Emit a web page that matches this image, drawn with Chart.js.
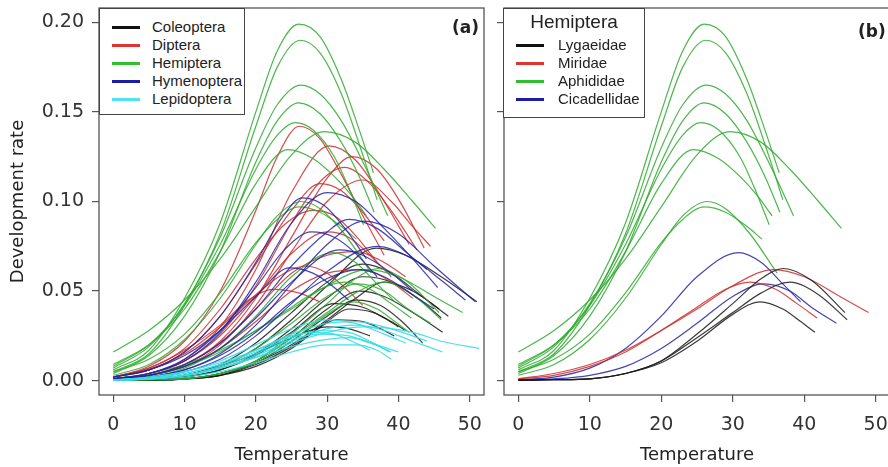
<!DOCTYPE html>
<html>
<head>
<meta charset="utf-8">
<script src="https://cdn.jsdelivr.net/npm/chart.js@4.4.1/dist/chart.umd.min.js"></script>
<style>
  body { margin: 0; width: 888px; height: 467px; overflow: hidden; background: #fff; position: relative; }
  .wrap { position: absolute; top: 0; height: 467px; }
  .legend { position: absolute; border: 1.3px solid #444; background: #fff; box-sizing: border-box;
            font-family: "Liberation Sans", Arial, sans-serif; font-size: 15px; color: #222; }
  .row { position: absolute; height: 18px; line-height: 18px; white-space: nowrap; }
  .row i { position: absolute; top: 8px; width: 28px; height: 3px; }
  .row span { position: absolute; }
  .tag { position: absolute; font-family: "DejaVu Sans", sans-serif; font-weight: bold; font-size: 17px; color: #222; }
</style>
</head>
<body>
<div class="wrap" style="left:0;width:490px"><canvas id="chartA"></canvas></div>
<div class="wrap" style="left:490px;width:402px"><canvas id="chartB"></canvas></div>
<div class="legend" id="legA" style="left:99px;top:8px;width:146px;height:107px"></div>
<div class="legend" id="legB" style="left:503px;top:8px;width:142px;height:110px">
  <div style="position:absolute;left:0;width:100%;top:2px;text-align:center;font-size:19px">Hemiptera</div>
</div>
<div class="tag" style="left:452px;top:17px">(a)</div>
<div class="tag" style="left:858px;top:21px">(b)</div>
<script>
// axis ticks
const xTicks = [0, 10, 20, 30, 40, 50];
const yTicks = [0, 0.05, 0.10, 0.15, 0.20];

// legend names
const orders = ['Coleoptera', 'Diptera', 'Hemiptera', 'Hymenoptera', 'Lepidoptera'];
const families = ['Lygaeidae', 'Miridae', 'Aphididae', 'Cicadellidae'];

// curves, [temperature, rate] pairs
const lygaeidae = [
  [[0,0.0002],[5,0.0005],[10,0.001],[15,0.004],[20,0.011],[25,0.026],[30,0.043],[34,0.057],[37.1,0.0626],[41,0.056],[45.7,0.038]],
  [[0,0.0002],[5,0.0005],[10,0.001],[15,0.004],[20,0.011],[25,0.024],[30,0.038],[34,0.049],[38,0.055],[42,0.048],[46,0.034]],
  [[0,0.0002],[5,0.0005],[10,0.001],[15,0.004],[20,0.010],[25,0.022],[30,0.037],[33.8,0.044],[37,0.040],[39.5,0.033],[41.5,0.027]]
];
const miridae = [
  [[0,0.001],[5,0.004],[10,0.009],[15,0.017],[20,0.028],[25,0.040],[30,0.053],[35.7,0.062],[40,0.058],[45,0.047],[49,0.038]],
  [[0,0.001],[5,0.003],[10,0.008],[15,0.016],[20,0.028],[25,0.041],[29,0.051],[32.4,0.055],[36,0.051],[39,0.043],[41.8,0.035]]
];
const aphididae = [
  [[0,0.006],[5,0.017],[10,0.046],[15,0.088],[20,0.150],[23,0.184],[26,0.199],[29,0.192],[32,0.168],[34.5,0.140],[36.5,0.116]],
  [[0,0.005],[5,0.015],[10,0.042],[15,0.082],[20,0.142],[23,0.175],[26.2,0.190],[29,0.183],[32,0.160],[35,0.126],[37,0.101]],
  [[0,0.007],[5,0.019],[10,0.043],[15,0.080],[20,0.130],[23,0.154],[26.3,0.165],[29,0.160],[32,0.145],[35.5,0.118],[38.5,0.092]],
  [[0,0.004],[5,0.014],[10,0.036],[15,0.072],[20,0.122],[23,0.145],[26,0.155],[29,0.149],[32,0.133],[34.5,0.114],[36.6,0.094]],
  [[0,0.008],[5,0.020],[10,0.042],[15,0.076],[20,0.118],[23,0.137],[25.5,0.144],[28,0.140],[31,0.125],[33,0.108],[35.1,0.087]],
  [[0,0.016],[5,0.028],[10,0.045],[15,0.068],[20,0.097],[25,0.126],[29.6,0.139],[34,0.133],[38,0.118],[42,0.100],[45.2,0.085]],
  [[0,0.009],[5,0.020],[10,0.040],[15,0.072],[20,0.110],[24.5,0.129],[28,0.124],[31,0.114],[33.5,0.103],[35.5,0.092]],
  [[0,0.003],[5,0.009],[10,0.023],[15,0.046],[20,0.076],[23,0.092],[26.4,0.100],[29,0.096],[32.4,0.082],[36.2,0.060]],
  [[0,0.005],[5,0.012],[10,0.026],[15,0.049],[20,0.077],[23,0.090],[26,0.097],[29,0.094],[32,0.086],[34.1,0.079]]
];
const cicadellidae = [
  [[0,0.0005],[5,0.002],[10,0.007],[15,0.018],[20,0.036],[25,0.058],[30.8,0.0715],[34,0.066],[37,0.054],[39.5,0.044]],
  [[0,0.0003],[5,0.001],[10,0.003],[15,0.008],[20,0.018],[25,0.032],[30,0.047],[34.3,0.054],[38,0.050],[41,0.041],[44.5,0.032]]
];
const hemiptera = [...lygaeidae, ...miridae, ...aphididae, ...cicadellidae];

const coleoptera = [
  [[0,0.0002],[5,0.001],[10,0.003],[15,0.008],[20,0.018],[25,0.034],[30,0.053],[36.9,0.074],[41,0.070],[46,0.058],[51,0.044]],
  [[0,0.0001],[5,0.0005],[10,0.002],[15,0.006],[20,0.015],[25,0.029],[30,0.046],[35,0.058],[39,0.055],[43,0.045],[46,0.035]],
  [[0,0.0001],[5,0.0003],[10,0.001],[15,0.004],[20,0.011],[25,0.024],[30,0.040],[34.5,0.050],[38,0.047],[42,0.038],[46.2,0.027]],
  [[0,0.0001],[5,0.0003],[10,0.001],[15,0.004],[20,0.010],[25,0.022],[30,0.036],[34,0.045],[37.5,0.042],[40.5,0.033],[43.4,0.021]],
  [[0,0.0001],[5,0.0003],[10,0.001],[15,0.003],[20,0.009],[25,0.019],[28,0.027],[31.3,0.034],[35,0.033],[37.5,0.029],[39.4,0.025]],
  [[0,0.0001],[5,0.0002],[10,0.0008],[15,0.003],[20,0.008],[25,0.018],[30,0.033],[33,0.040],[36.5,0.038],[39,0.033],[41,0.028]],
  [[0,0.0001],[5,0.0002],[10,0.001],[15,0.003],[20,0.010],[25,0.020],[30,0.034],[34,0.046],[38,0.055],[42,0.050],[47,0.036]],
  [[0,0.0002],[5,0.001],[10,0.003],[15,0.008],[20,0.015],[25,0.024],[30,0.030],[33,0.029],[36,0.025]],
  [[0,0.0002],[5,0.001],[10,0.003],[15,0.009],[20,0.021],[25,0.038],[30,0.055],[35,0.065],[39,0.060],[43,0.048],[45.7,0.040]],
  [[0,0.0002],[5,0.0008],[10,0.002],[15,0.006],[20,0.014],[25,0.027],[31,0.043],[35,0.041],[38,0.035],[40,0.030]]
];
const diptera = [
  [[0,0.002],[5,0.008],[10,0.022],[15,0.050],[20,0.095],[23,0.125],[26.1,0.142],[29,0.135],[32,0.115],[35,0.092],[38,0.070]],
  [[0,0.001],[5,0.004],[10,0.012],[15,0.030],[20,0.062],[25,0.105],[30.3,0.131],[34,0.123],[38,0.100],[41.5,0.076]],
  [[0,0.001],[5,0.003],[10,0.009],[15,0.022],[20,0.046],[25,0.080],[30,0.113],[33.5,0.125],[37,0.118],[40.5,0.098],[43.6,0.074]],
  [[0,0.001],[5,0.004],[10,0.011],[15,0.026],[20,0.053],[25,0.088],[29,0.111],[32.4,0.119],[36,0.110],[39.5,0.092],[42.6,0.073]],
  [[0,0.002],[5,0.006],[10,0.016],[15,0.036],[20,0.065],[25,0.095],[29,0.110],[32,0.106],[35,0.094],[38,0.078]],
  [[0,0.001],[5,0.004],[10,0.011],[15,0.025],[20,0.047],[25,0.071],[30,0.083],[33,0.080],[36,0.070],[39,0.058]],
  [[0,0.002],[5,0.006],[10,0.015],[15,0.030],[20,0.048],[24,0.060],[27,0.064],[30,0.060],[33,0.050],[35,0.042]],
  [[0,0.002],[5,0.007],[10,0.017],[15,0.031],[19,0.045],[22.5,0.051],[26,0.049],[29,0.044]],
  [[0,0.001],[5,0.003],[10,0.008],[15,0.018],[20,0.033],[25,0.050],[30,0.060],[35,0.062],[39,0.055],[42,0.046]],
  [[0,0.001],[5,0.003],[10,0.009],[15,0.021],[20,0.040],[25,0.060],[30,0.070],[34,0.072],[38,0.066],[41,0.058]],
  [[0,0.002],[5,0.007],[10,0.018],[15,0.040],[20,0.068],[24,0.087],[28,0.095],[31,0.092],[34,0.081],[37,0.066]],
  [[0,0.001],[5,0.003],[10,0.008],[15,0.020],[20,0.042],[25,0.072],[30,0.100],[35,0.112],[39,0.100],[42,0.086],[44.5,0.075]]
];
const hymenoptera = [
  [[0,0.001],[5,0.004],[10,0.011],[15,0.027],[20,0.055],[25,0.088],[30,0.105],[34,0.100],[38,0.085],[42,0.068],[45.5,0.052]],
  [[0,0.002],[5,0.006],[10,0.016],[15,0.036],[20,0.066],[23.5,0.090],[26.5,0.102],[29.5,0.098],[32.5,0.085],[35.5,0.068]],
  [[0,0.001],[5,0.002],[10,0.006],[15,0.015],[20,0.031],[25,0.054],[30,0.076],[35.2,0.089],[40,0.082],[45,0.064],[50.8,0.044]],
  [[0,0.001],[5,0.004],[10,0.012],[15,0.028],[20,0.052],[24,0.073],[27.8,0.083],[31,0.080],[34,0.071],[37,0.058]],
  [[0,0.001],[5,0.002],[10,0.005],[15,0.012],[20,0.025],[25,0.043],[30,0.061],[37,0.075],[42,0.068],[46,0.056],[49.4,0.045]],
  [[0,0.001],[5,0.003],[10,0.008],[15,0.018],[20,0.035],[25,0.055],[31.7,0.073],[35,0.070],[39,0.060],[42,0.050]],
  [[0,0.002],[5,0.006],[10,0.014],[15,0.028],[20,0.047],[24.7,0.063],[28,0.060],[31,0.052],[33,0.045]],
  [[0,0.001],[5,0.002],[10,0.006],[15,0.014],[20,0.027],[25,0.044],[30,0.057],[34.5,0.062],[38,0.058],[42,0.048],[45,0.040]],
  [[0,0.001],[5,0.003],[10,0.009],[15,0.021],[20,0.040],[25,0.064],[30,0.083],[33,0.090],[37,0.085],[41,0.072],[44,0.062]]
];
const lepidoptera = [
  [[0,0.0005],[5,0.002],[10,0.005],[15,0.011],[20,0.020],[25,0.029],[30,0.034],[34,0.032],[38,0.026],[41,0.021]],
  [[0,0.0003],[5,0.001],[10,0.003],[15,0.007],[20,0.013],[25,0.021],[30,0.027],[35,0.030],[42,0.027],[46,0.022],[51.3,0.018]],
  [[0,0.0003],[5,0.001],[10,0.003],[15,0.007],[20,0.013],[25,0.019],[30,0.023],[33,0.024],[36,0.021],[39,0.016]],
  [[0,0.0004],[5,0.0015],[10,0.004],[15,0.009],[20,0.016],[25,0.024],[29,0.028],[33,0.027],[36,0.022],[38.7,0.016]],
  [[0,0.0003],[5,0.001],[10,0.003],[15,0.007],[20,0.014],[25,0.022],[30,0.029],[34,0.031],[38,0.028],[42,0.022],[46.2,0.016]],
  [[0,0.0005],[5,0.002],[10,0.005],[15,0.010],[20,0.017],[25,0.025],[28,0.027],[31,0.026],[34,0.021],[36,0.017]],
  [[0,0.0002],[5,0.001],[10,0.002],[15,0.005],[20,0.010],[25,0.016],[30,0.020],[34,0.020],[37,0.017],[39,0.012]],
  [[0,0.0004],[5,0.0015],[10,0.004],[15,0.009],[20,0.017],[25,0.026],[30,0.032],[34,0.033],[38,0.030],[42,0.025],[44,0.022]],
  [[0,0.0003],[5,0.001],[10,0.003],[15,0.008],[20,0.015],[25,0.023],[29,0.026],[33,0.025],[37,0.020],[40,0.016]]
];

const orderCurves = [coleoptera, diptera, hemiptera, hymenoptera, lepidoptera];
const familyCurves = [lygaeidae, miridae, aphididae, cicadellidae];

// colours
const keyColours = ['#111111', '#e03434', '#2fbf2f', '#1c1ca8', '#4fe4ec'];
const lineColours = ['rgba(25,25,25,0.85)', 'rgba(205,45,45,0.85)', 'rgba(45,170,45,0.85)', 'rgba(35,35,165,0.85)', 'rgba(55,220,228,0.9)'];
const famKey = ['#111111', '#e03434', '#2fbf2f', '#1c1ca8'];
const famLine = [lineColours[0], lineColours[1], lineColours[2], lineColours[3]];
const drawOrder = [4, 3, 2, 1, 0];

const tickFont = { family: 'DejaVu Sans', size: 19 };
const titleFont = { family: 'DejaVu Sans', size: 18 };

const toPts = c => c.map(p => ({ x: p[0], y: p[1] }));

const lineSet = (curve, colour, ord) => ({
    data: toPts(curve),
    showLine: true,
    borderColor: colour,
    borderWidth: 1.2,
    pointRadius: 0,
    cubicInterpolationMode: 'monotone',
    fill: false,
    order: ord
});

const boxPlugin = {
    id: 'box',
    afterDatasetsDraw(chart) {
        const a = chart.chartArea, ctx = chart.ctx;
        ctx.save();
        ctx.strokeStyle = '#555';
        ctx.lineWidth = 1.3;
        ctx.strokeRect(a.left, a.top, a.right - a.left, a.bottom - a.top);
        ctx.restore();
    }
};

const makeScales = (showY) => ({
    x: {
        type: 'linear', min: -2, max: 52,
        afterBuildTicks: s => { s.ticks = xTicks.map(v => ({ value: v })); },
        // fixed axis height, and no extra room asked for the end labels
        afterFit: s => { s.height = 72; s.paddingLeft = 0; s.paddingRight = 0; },
        ticks: { font: tickFont, color: '#333', padding: 12, maxRotation: 0, autoSkip: false, callback: v => String(v) },
        grid: { display: true, drawOnChartArea: false, drawTicks: true, tickLength: 7, color: '#555', lineWidth: 1.2 },
        border: { display: false },
        title: { display: true, text: 'Temperature', font: titleFont, color: '#222', padding: { top: 0, bottom: 1 } }
    },
    y: {
        type: 'linear', min: -0.008, max: 0.208,
        afterBuildTicks: s => { s.ticks = yTicks.map(v => ({ value: v })); },
        afterFit: s => { s.width = showY ? 99 : 14; s.paddingTop = 0; s.paddingBottom = 0; },
        ticks: { font: tickFont, color: '#333', padding: 8, autoSkip: false, callback: v => showY ? v.toFixed(2) : '' },
        grid: { display: true, drawOnChartArea: false, drawTicks: true, tickLength: 7, color: '#555', lineWidth: 1.2 },
        border: { display: false },
        title: { display: showY, text: 'Development rate', font: titleFont, color: '#222', padding: { top: 8, bottom: 0 } }
    }
});

const baseOpts = (showY, pad) => ({
    responsive: true,
    maintainAspectRatio: false,
    animation: false,
    layout: { padding: pad },
    plugins: { legend: { display: false }, tooltip: { enabled: false } },
    scales: makeScales(showY)
});

// panel (a): all orders
const setsA = [];
orderCurves.forEach((curves, i) => {
    curves.forEach(c => setsA.push(lineSet(c, lineColours[i], drawOrder[i])));
});
new Chart(document.getElementById('chartA'), {
    type: 'scatter',
    data: { datasets: setsA },
    options: baseOpts(true, { top: 8, right: 6, left: 0, bottom: 0 }),
    plugins: [boxPlugin]
});

// panel (b): Hemiptera families
const setsB = [];
familyCurves.forEach((curves, i) => {
    curves.forEach(c => setsB.push(lineSet(c, famLine[i], i === 2 ? 3 : i)));
});
new Chart(document.getElementById('chartB'), {
    type: 'scatter',
    data: { datasets: setsB },
    options: baseOpts(false, { top: 8, right: 2, left: 0, bottom: 0 }),
    plugins: [boxPlugin]
});

// legends
const legA = document.getElementById('legA');
orders.forEach((name, i) => {
    const r = document.createElement('div');
    r.className = 'row';
    r.style.top = (9 + i * 18) + 'px';
    r.style.left = '0px';
    r.innerHTML = '<i style="left:12px;background:' + keyColours[i] + '"></i><span style="left:52px">' + name + '</span>';
    legA.appendChild(r);
});
const legB = document.getElementById('legB');
families.forEach((name, i) => {
    const r = document.createElement('div');
    r.className = 'row';
    r.style.top = (27 + i * 18) + 'px';
    r.style.left = '0px';
    r.innerHTML = '<i style="left:12px;background:' + famKey[i] + '"></i><span style="left:54px">' + name + '</span>';
    legB.appendChild(r);
});
</script>
</body>
</html>
